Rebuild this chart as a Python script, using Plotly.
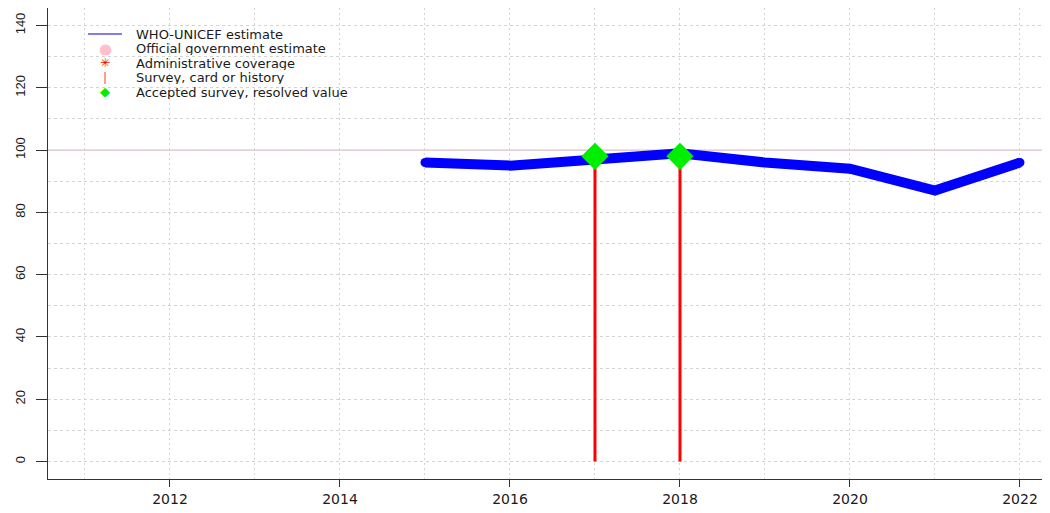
import plotly.graph_objects as go

# ---- data ----
years_est = [2015, 2016, 2017, 2018, 2019, 2020, 2021, 2022]
who_unicef = [96, 95, 97, 99, 96, 94, 87, 96]

survey_years = [2017, 2018]
survey_values = [98, 98]

accepted_years = [2017, 2018]
accepted_values = [98, 98]

target_value = 100

x_ticks = [2012, 2014, 2016, 2018, 2020, 2022]
y_ticks = [0, 20, 40, 60, 80, 100, 120, 140]

legend_labels = [
    "WHO-UNICEF estimate",
    "Official government estimate",
    "Administrative coverage",
    "Survey, card or history",
    "Accepted survey, resolved value",
]

# ---- layout constants ----
# the page body has an 8px margin, so the figure is offset by 8px
OFF = 8
W, H = 1050 - OFF, 513 - OFF
ML, MT, MB, MR = 48 - OFF, 0, 34, 0
PW = W - ML - MR
PH = H - MT - MB

fig = go.Figure()

# WHO-UNICEF estimate line
fig.add_trace(go.Scatter(
    x=years_est, y=who_unicef, mode="lines+markers",
    line=dict(color="#0000ff", width=10),
    marker=dict(color="#0000ff", size=9),
    showlegend=False, hoverinfo="skip",
))

# Survey vertical segments from 0 to value
sx, sy = [], []
for yr, v in zip(survey_years, survey_values):
    sx += [yr, yr, None]
    sy += [0, v, None]
fig.add_trace(go.Scatter(
    x=sx, y=sy, mode="lines",
    line=dict(color="#ff0000", width=3),
    showlegend=False, hoverinfo="skip",
))

# Accepted survey diamonds
fig.add_trace(go.Scatter(
    x=accepted_years, y=accepted_values, mode="markers",
    marker=dict(symbol="diamond", color="#00ee00", size=21,
                line=dict(width=0)),
    showlegend=False, hoverinfo="skip",
))

# target reference line
fig.add_shape(type="line", xref="paper", x0=0, x1=1, yref="y",
              y0=target_value, y1=target_value,
              line=dict(color="#ffb0c0", width=1.2), layer="below")

# ---- custom legend (text annotations) ----
def px_to_paper(px, py):
    # px, py are window pixel coordinates
    return (px - OFF - ML) / PW, (H - MB - (py - OFF)) / PH

row_y = [34, 48.5, 63, 77.5, 92]
sym_x = 105
text_x = 135
font_leg = dict(family="DejaVu Sans", size=13, color="#1a1a1a")

for lab, py in zip(legend_labels, row_y):
    xp, yp = px_to_paper(text_x, py)
    fig.add_annotation(x=xp, y=yp, xref="paper", yref="paper", text=lab,
                       showarrow=False, xanchor="left", yanchor="middle",
                       font=font_leg, borderpad=0, height=14)

# symbols
x0p, y0p = px_to_paper(88, row_y[0])
x1p, _ = px_to_paper(122, row_y[0])
fig.add_shape(type="line", xref="paper", yref="paper", x0=x0p, x1=x1p,
              y0=y0p, y1=y0p, line=dict(color="#0000cc", width=1.2))

sym_defs = [
    (1, "●", "#ffc0cb", 15),
    (2, "✳", "#ff0000", 12),
    (3, "|", "#ff3366", 12),
    (4, "◆", "#00ee00", 13),
]
for idx, ch, col, sz in sym_defs:
    xp, yp = px_to_paper(sym_x, row_y[idx])
    fig.add_annotation(x=xp, y=yp, xref="paper", yref="paper", text=ch,
                       showarrow=False, xanchor="center", yanchor="middle",
                       font=dict(family="DejaVu Sans", size=sz, color=col),
                       borderpad=0, height=13)

grid_col = "#d3d3d3"
axis_col = "#333333"

fig.update_layout(
    width=W, height=H,
    margin=dict(l=ML, r=MR, t=MT, b=MB, pad=0, autoexpand=False),
    paper_bgcolor="white", plot_bgcolor="white",
    showlegend=False,
    xaxis=dict(
        range=[2010.565, 2010.565 + PW / 85.0],
        automargin=False,
        tickmode="array", tickvals=x_ticks,
        ticktext=[str(v) for v in x_ticks],
        ticks="outside", ticklen=7, tickwidth=1.3, tickcolor=axis_col,
        showline=True, linecolor=axis_col, linewidth=1.3, mirror=True,
        showgrid=True, gridcolor=grid_col, gridwidth=1, griddash="2px,3px",
        minor=dict(dtick=1, tick0=2011, showgrid=True, gridcolor=grid_col,
                   gridwidth=1, griddash="2px,3px", ticks=""),
        zeroline=False,
        tickfont=dict(family="DejaVu Sans", size=14, color="#1a1a1a"),
    ),
    yaxis=dict(
        range=[-5.6, 145.6],
        automargin=False,
        tickmode="array", tickvals=y_ticks,
        ticktext=[str(v) for v in y_ticks],
        ticks="outside", ticklen=11, tickwidth=1.3, tickcolor=axis_col,
        showline=True, linecolor=axis_col, linewidth=1.3, mirror=False,
        showgrid=True, gridcolor=grid_col, gridwidth=1, griddash="3px,3px",
        minor=dict(dtick=10, tick0=0, showgrid=True, gridcolor=grid_col,
                   gridwidth=1, griddash="3px,3px", ticks=""),
        zeroline=False, tickangle=-90, ticklabelstandoff=6,
        tickfont=dict(family="Liberation Sans, Arial, sans-serif", size=13, color="#1a1a1a"),
    ),
)

fig.write_html("out.html")
